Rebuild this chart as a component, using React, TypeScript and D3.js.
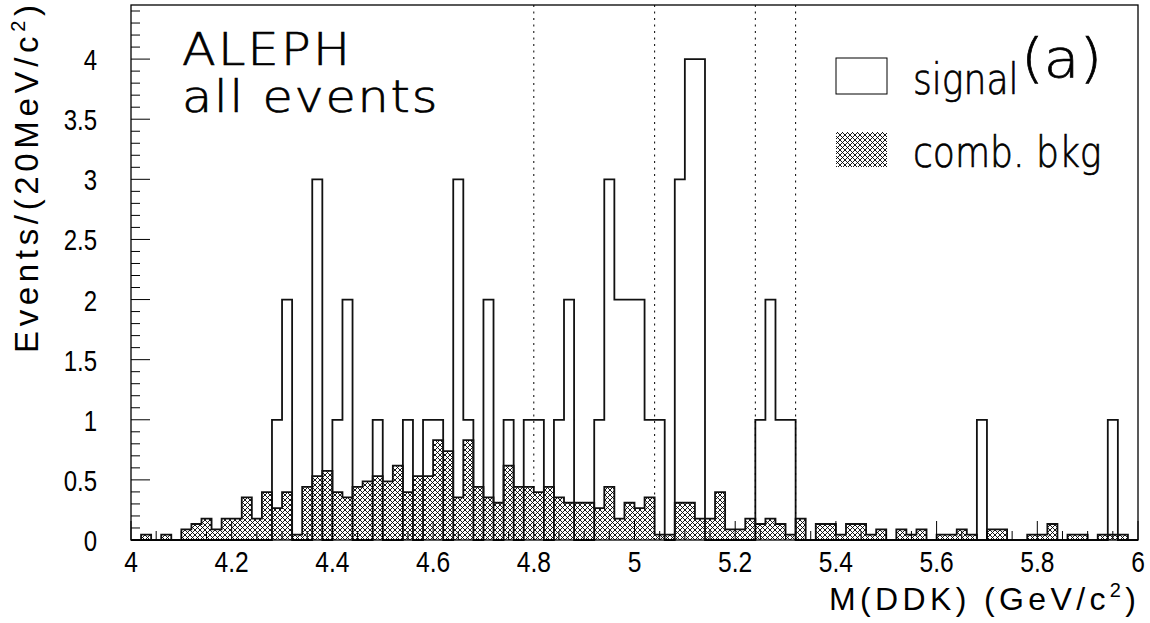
import * as d3 from 'd3';
import React from 'react';

// histogram binning: 100 bins of 20 MeV from 4 to 6 GeV
const lowEdge = 4;
const highEdge = 6;
const binWidth = 0.02;

// signal entries per bin
const signal = [
  0, 0, 0, 0, 0, 0, 0, 0, 0, 0,
  0, 0, 0, 0, 1, 2, 0, 0, 3, 0,
  1, 2, 0, 0, 1, 0, 0, 1, 0, 1,
  1, 0, 3, 1, 0, 2, 0, 1, 0, 1,
  1, 0, 1, 2, 0, 0, 1, 3, 2, 2,
  2, 1, 1, 0, 3, 4, 4, 0, 0, 0,
  0, 0, 1, 2, 1, 1, 0, 0, 0, 0,
  0, 0, 0, 0, 0, 0, 0, 0, 0, 0,
  0, 0, 0, 0, 1, 0, 0, 0, 0, 0,
  0, 0, 0, 0, 0, 0, 0, 1, 0, 0,
];

// combinatorial background (normalised)
const bkg = [
  0, 0.044, 0, 0.044, 0, 0.088, 0.133, 0.177, 0.088, 0.177,
  0.177, 0.354, 0.177, 0.398, 0.265, 0.398, 0.044, 0.442, 0.531, 0.575,
  0.398, 0.354, 0.442, 0.487, 0.531, 0.487, 0.619, 0.398, 0.531, 0.531,
  0.83, 0.74, 0.354, 0.83, 0.442, 0.354, 0.31, 0.619, 0.442, 0.442,
  0.398, 0.442, 0.354, 0.31, 0.31, 0.31, 0.265, 0.442, 0.177, 0.31,
  0.265, 0.354, 0.044, 0.044, 0.31, 0.31, 0.177, 0.177, 0.398, 0.088,
  0.088, 0.177, 0.133, 0.177, 0.133, 0.044, 0.177, 0, 0.133, 0.133,
  0.044, 0.133, 0.133, 0.044, 0.088, 0, 0.088, 0.044, 0.088, 0,
  0.044, 0.044, 0.088, 0.044, 0, 0.088, 0.088, 0, 0, 0.044,
  0.044, 0.133, 0, 0.044, 0.044, 0, 0.044, 0.044, 0.044, 0,
];

const cutLines = [4.8, 5.04, 5.24, 5.32];
const xTickLabels = ['4', '4.2', '4.4', '4.6', '4.8', '5', '5.2', '5.4', '5.6', '5.8', '6'];
const yTickLabels = ['0', '0.5', '1', '1.5', '2', '2.5', '3', '3.5', '4'];

const W = 1150;
const H = 623;
const left = 131;
const right = 1138;
const top = 5;
const bottom = 540;
const yMax = 4.45;

const App = () => {
  const x = d3.scaleLinear().domain([lowEdge, highEdge]).range([left, right]);
  const y = d3.scaleLinear().domain([0, yMax]).range([bottom, top]);

  const edge = (i: number) => lowEdge + i * binWidth;

  const stepPts = (vals: number[]) => {
    const pts: [number, number][] = [[edge(0), 0]];
    vals.forEach((v, i) => pts.push([edge(i), v]));
    pts.push([highEdge, vals[vals.length - 1]]);
    pts.push([highEdge, 0]);
    return pts;
  };

  const line = d3.line<[number, number]>()
    .x((d) => x(d[0]))
    .y((d) => y(d[1]))
    .curve(d3.curveStepAfter);

  const area = d3.area<[number, number]>()
    .x((d) => x(d[0]))
    .y0(y(0))
    .y1((d) => y(d[1]))
    .curve(d3.curveStepAfter);

  const bkgPts = stepPts(bkg);

  const xMinor = d3.range(0, 41).map((i) => lowEdge + i * 0.05);
  const yMinor = d3.range(0, 45).map((i) => i * 0.1);

  const tickFont = 'Liberation Sans, Arial, sans-serif';
  const textFont = 'DejaVu Sans, sans-serif';
  // light text, slightly thickened to match the plotter strokes
  const lightText = { fontFamily: textFont, fontWeight: 200, stroke: '#000', strokeWidth: 0.7, fill: '#000' };

  return (
    <svg width={W} height={H} style={{ position: 'absolute', left: 0, top: 0, background: '#fff' }}>
      <defs>
        <pattern id="xhatch" width="5" height="5" patternUnits="userSpaceOnUse">
          <path d="M0,0 L5,5 M5,0 L0,5 M-1,4 L1,6 M4,-1 L6,1 M-1,1 L1,-1 M4,6 L6,4" stroke="#000" strokeWidth="0.9" />
        </pattern>
      </defs>
      <rect x={0} y={0} width={W} height={H} fill="#fff" />

      {/* signal histogram outline */}
      <path d={line(stepPts(signal)) || ''} fill="none" stroke="#111" strokeWidth={1.8} />

      {/* background hatched histogram */}
      <path d={area(bkgPts) || ''} fill="url(#xhatch)" stroke="none" />
      <path d={line(bkgPts) || ''} fill="none" stroke="#111" strokeWidth={1.8} />

      {/* cut lines */}
      {cutLines.map((c) => (
        <line key={c} x1={x(c)} x2={x(c)} y1={top} y2={bottom} stroke="#000" strokeWidth={1} strokeDasharray="2 4.5" />
      ))}

      {/* ticks */}
      {xMinor.map((v, i) => (
        <line key={'xt' + i} x1={x(v)} x2={x(v)} y1={bottom} y2={bottom - (i % 4 === 0 ? 19 : 9)} stroke="#000" strokeWidth={1} />
      ))}
      {yMinor.map((v, i) => (
        <line key={'yt' + i} x1={left} x2={left + (i % 5 === 0 ? 19 : 9)} y1={y(v)} y2={y(v)} stroke="#000" strokeWidth={1} />
      ))}

      {/* frame */}
      <rect x={left} y={top} width={right - left} height={bottom - top} fill="none" stroke="#000" strokeWidth={1.3} />

      {/* tick labels */}
      {xTickLabels.map((t) => (
        <text key={'xl' + t} transform={`translate(${x(+t)},572) scale(0.82,1)`} textAnchor="middle"
          fontFamily={tickFont} fontSize={30} fill="#000">{t}</text>
      ))}
      {yTickLabels.map((t) => (
        <text key={'yl' + t} transform={`translate(97,${y(+t) + 11}) scale(0.8,1)`} textAnchor="end"
          fontFamily={tickFont} fontSize={30} fill="#000">{t}</text>
      ))}

      {/* axis titles */}
      <text x={829} y={610} fontFamily={tickFont} fontSize={32} textLength={307} lengthAdjust="spacing">
        M(DDK) (GeV/c<tspan dy={-13} fontSize={20}>2</tspan><tspan dy={13}>)</tspan>
      </text>
      <text transform="translate(38,353) rotate(-90)" fontFamily={tickFont} fontSize={33} textLength={348} lengthAdjust="spacing">
        Events/(20MeV/c<tspan dy={-13} fontSize={20}>2</tspan><tspan dy={13}>)</tspan>
      </text>

      {/* labels */}
      <text transform="translate(182,65) scale(1.12,1)" {...lightText} fontSize={44} textLength={150} lengthAdjust="spacing">ALEPH</text>
      <text transform="translate(182,112) scale(1.12,1)" {...lightText} fontSize={44} textLength={228} lengthAdjust="spacing">all events</text>

      {/* legend */}
      <rect x={836} y={58} width={51} height={36} fill="#fff" stroke="#000" strokeWidth={1} />
      <text transform="translate(913,94) scale(0.86,1)" {...lightText} fontSize={42}>signal</text>
      <rect x={836} y={132} width={51} height={35} fill="url(#xhatch)" />
      <text transform="translate(913,167) scale(0.86,1)" {...lightText} fontSize={42}>comb. bkg</text>
      <text transform="translate(1021,77) scale(1.08,1)" {...lightText} fontSize={54}>(a)</text>
    </svg>
  );
};

export default App;
